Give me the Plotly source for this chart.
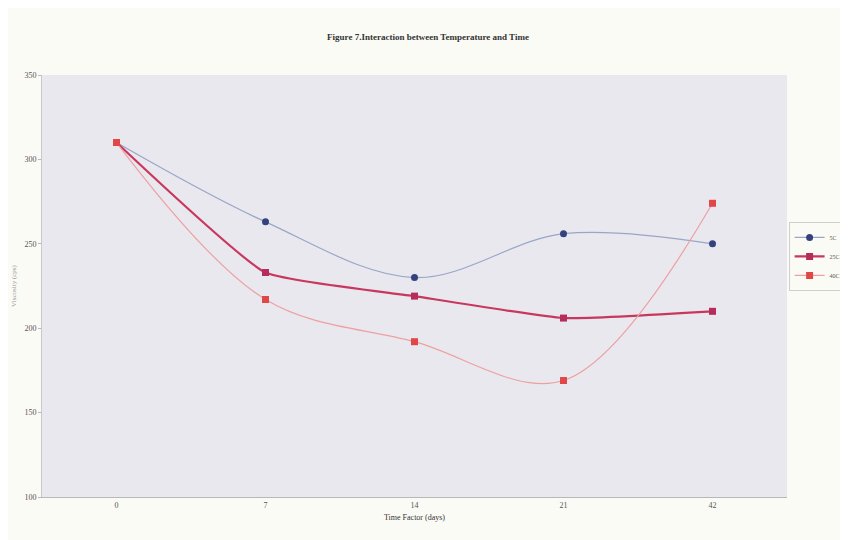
import plotly.graph_objects as go

days = ["0", "7", "14", "21", "42"]
temp_labels = ["5C", "25C", "40C"]
series_a = [310, 263, 230, 256, 250]
series_b = [310, 233, 219, 206, 210]
series_c = [310, 217, 192, 169, 274]
y_ticks = [100, 150, 200, 250, 300, 350]

fig = go.Figure()
fig.add_trace(go.Scatter(
    x=days, y=series_a, name=temp_labels[0], mode="lines+markers",
    line=dict(color="#9aa6c8", width=1.2, shape="spline", smoothing=1.0),
    marker=dict(color="#34427e", size=7, symbol="circle")))
fig.add_trace(go.Scatter(
    x=days, y=series_b, name=temp_labels[1], mode="lines+markers",
    line=dict(color="#c8385e", width=2.2, shape="spline", smoothing=0.4),
    marker=dict(color="#b52d5a", size=7, symbol="square")))
fig.add_trace(go.Scatter(
    x=days, y=series_c, name=temp_labels[2], mode="lines+markers",
    line=dict(color="#eea0a0", width=1.2, shape="spline", smoothing=1.0),
    marker=dict(color="#e04848", size=7, symbol="square")))

fig.update_layout(
    width=840, height=532,
    paper_bgcolor="#fbfbf6", plot_bgcolor="#e9e8ef",
    margin=dict(l=34, r=61, t=67, b=43, autoexpand=False),
    font=dict(family="Liberation Serif", size=8, color="#555555"),
    title=dict(text="<b>Figure 7.Interaction between Temperature and Time</b>",
               x=0.5, xanchor="center", y=0.945, yanchor="middle",
               font=dict(family="Liberation Serif", size=9, color="#333333")),
    xaxis=dict(type="category", range=[-0.5, 4.5], showgrid=False,
               zeroline=False, automargin=False,
               showline=True, linecolor="#b8b8b8", ticks="",
               title=dict(text="Time Factor (days)", standoff=5,
                          font=dict(size=8, color="#333333"))),
    yaxis=dict(range=[100, 350], tickvals=y_ticks, showgrid=False,
               zeroline=False, showline=True, linecolor="#c8c8c8",
               automargin=False,
               ticks="outside", ticklen=3, tickcolor="#bbbbbb",
               title=dict(text="Viscosity (cps)", standoff=6,
                          font=dict(size=7, color="#999999"))),
    legend=dict(x=1.08, y=0.57, xanchor="right", yanchor="middle",
                bgcolor="#fbfbf6", bordercolor="#cfcfcf", borderwidth=1,
                font=dict(size=6, color="#555555"), itemwidth=30,
                tracegroupgap=0),
)

fig.write_html("out.html")
